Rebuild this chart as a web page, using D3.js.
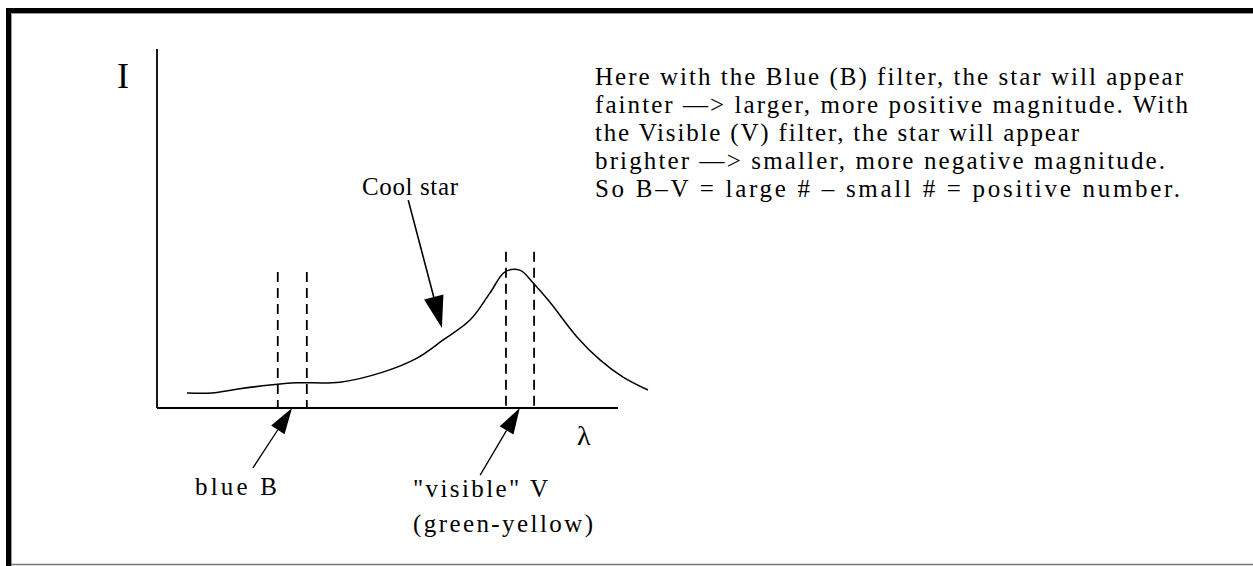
<!DOCTYPE html>
<html>
<head>
<meta charset="utf-8">
<script src="https://cdn.jsdelivr.net/npm/d3@7"></script>
<style>
  html, body { margin: 0; padding: 0; background: #fff; }
  svg { display: block; }
  text { font-family: "Liberation Serif", "DejaVu Serif", serif; fill: #000; }
</style>
</head>
<body>
<script>
// Spectrum of a cool star: wavelength (arbitrary units) vs intensity (arbitrary units)
const wavelength = [6.5, 11.9, 17.6, 24.5, 30.4, 39.7, 49.0, 56.4, 62.0, 67.9, 72.2, 75.5, 78.7, 81.6, 85.2, 91.1, 96.1, 101.1, 106.5];
const intensity  = [4.2, 4.2, 5.3, 6.4, 7.0, 7.2, 10.0, 13.9, 18.9, 24.5, 32.0, 37.9, 38.4, 34.8, 29.5, 19.8, 13.4, 8.6, 5.0];

// Filter pass-band edges (wavelength) and the height of their dashed markers
const filterNames = ["B", "V"];
const filterEdges = [[26.2, 32.5], [75.7, 81.8]];
const filterTops  = [37.9, 43.5];

// Axis extent
const xDomain = [0, 100];
const yDomain = [0, 100];

// Paragraph text
const noteLines = [
  "Here with the Blue (B) filter, the star will appear",
  "fainter \u2014> larger, more positive magnitude. With",
  "the Visible (V) filter, the star will appear",
  "brighter \u2014> smaller, more negative magnitude.",
  "So B\u2013V = large # \u2013 small # = positive number."
];
const noteWidths = [588, 593, 484, 570, 585];

const W = 1253, H = 566;
const svg = d3.select("body").append("svg").attr("width", W).attr("height", H);

// Frame
svg.append("rect").attr("x", 6).attr("y", 8).attr("width", W - 6).attr("height", 5).attr("fill", "#000");
svg.append("rect").attr("x", 6).attr("y", 8).attr("width", 5).attr("height", H - 8).attr("fill", "#000");
svg.append("line").attr("x1", 11.5).attr("x2", 11.5).attr("y1", 13).attr("y2", H).attr("stroke", "#999").attr("stroke-width", 1);
svg.append("line").attr("x1", 11).attr("x2", W).attr("y1", 13.5).attr("y2", 13.5).attr("stroke", "#999").attr("stroke-width", 1);
svg.append("line").attr("x1", 11).attr("x2", W).attr("y1", 564.5).attr("y2", 564.5).attr("stroke", "#777").attr("stroke-width", 1.5);

// Scales
const x = d3.scaleLinear().domain(xDomain).range([157, 618]);
const y = d3.scaleLinear().domain(yDomain).range([408, 49]);

// Axes (plain lines, no ticks)
const axisG = svg.append("g");
axisG.append("line").attr("x1", x(0)).attr("x2", x(0)).attr("y1", y(0)).attr("y2", y(100))
  .attr("stroke", "#000").attr("stroke-width", 1.8);
axisG.append("line").attr("x1", x(0)).attr("x2", x(100)).attr("y1", y(0)).attr("y2", y(0))
  .attr("stroke", "#000").attr("stroke-width", 1.8);

svg.append("text").attr("x", x(0) - 40).attr("y", y(100) + 39)
  .attr("font-size", 36).text("I");
svg.append("text").attr("x", x(91.1)).attr("y", y(-10.3))
  .attr("font-size", 28).text("\u03bb");

// Spectrum curve
const pts = wavelength.map((w, i) => [w, intensity[i]]);
svg.append("path")
  .datum(pts)
  .attr("fill", "none")
  .attr("stroke", "#000")
  .attr("stroke-width", 1.5)
  .attr("d", d3.line().x(d => x(d[0])).y(d => y(d[1])).curve(d3.curveCatmullRom.alpha(0.5)));

// Filter dashed markers
filterEdges.forEach((edges, i) => {
  edges.forEach(e => {
    svg.append("line")
      .attr("x1", x(e)).attr("x2", x(e))
      .attr("y1", y(filterTops[i])).attr("y2", y(0))
      .attr("stroke", "#000").attr("stroke-width", 1.8)
      .attr("stroke-dasharray", "10,6");
  });
});

// Arrow helper: line with a filled triangular head at the tip
function arrow(from, to, headLen, headW, width) {
  const x0 = x(from[0]), y0 = y(from[1]), x1 = x(to[0]), y1 = y(to[1]);
  const ang = Math.atan2(y1 - y0, x1 - x0);
  const bx = x1 - headLen * Math.cos(ang), by = y1 - headLen * Math.sin(ang);
  svg.append("line").attr("x1", x0).attr("y1", y0).attr("x2", bx).attr("y2", by)
    .attr("stroke", "#000").attr("stroke-width", width);
  const px = -Math.sin(ang) * headW / 2, py = Math.cos(ang) * headW / 2;
  svg.append("path")
    .attr("d", `M${x1},${y1}L${bx + px},${by + py}L${bx - px},${by - py}Z`)
    .attr("fill", "#000");
}

// Annotation arrows
arrow([54.5, 57.9], [61.8, 22.3], 32, 20, 1.6);
arrow([20.8, -16.7], [29.3, 0], 26, 16, 1.3);
arrow([70.1, -18.7], [78.7, 0], 26, 16, 1.3);

// Labels
function label(tx, ty, str, size, len) {
  const t = svg.append("text").attr("x", tx).attr("y", ty).attr("font-size", size).text(str);
  if (len) t.attr("textLength", len).attr("lengthAdjust", "spacing");
  return t;
}
label(362, 195, "Cool star", 25, 96);
label(195, 495, "blue B", 25, 82);
label(413, 497, "\"visible\" V", 25, 135);
label(413, 532, "(green-yellow)", 25, 180);

// Explanatory paragraph
noteLines.forEach((s, i) => label(595, 85 + i * 28, s, 25, noteWidths[i]));
</script>
</body>
</html>
